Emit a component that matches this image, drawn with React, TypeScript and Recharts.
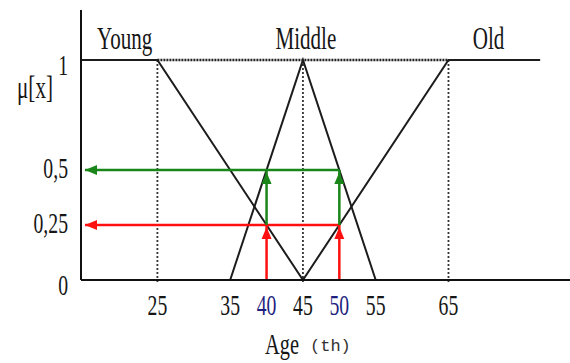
import React from "react";
import {
  LineChart,
  Line,
  XAxis,
  YAxis,
  ReferenceLine,
  ReferenceDot,
} from "recharts";

// age axis
const ageTicks = [25, 35, 40, 45, 50, 55, 65];
const inputAges = [40, 50];
const ageDomain = [14.5, 81.7];

// membership axis
const muTicks = [0, 0.25, 0.5, 1];
const muTickLabels = ["0", "0,25", "0,5", "1"];

// fuzzy sets
const young = [
  { x: 14.5, y: 1 },
  { x: 25, y: 1 },
  { x: 45, y: 0 },
];
const middle = [
  { x: 35, y: 0 },
  { x: 45, y: 1 },
  { x: 55, y: 0 },
];
const old = [
  { x: 45, y: 0 },
  { x: 65, y: 1 },
  { x: 77.6, y: 1 },
];
const setNames = ["Young", "Middle", "Old"];
const setNameAt = [20.5, 45.4, 70.5];
const peakAges = [25, 45, 65];

const lowDegree = 0.25;
const highDegree = 0.5;
const arrowEnd = 15.05;

const redUp40 = [
  { x: 40, y: 0 },
  { x: 40, y: lowDegree },
];
const redUp50 = [
  { x: 50, y: 0 },
  { x: 50, y: lowDegree },
];
const greenUp40 = [
  { x: 40, y: lowDegree },
  { x: 40, y: highDegree },
];
const greenUp50 = [
  { x: 50, y: lowDegree },
  { x: 50, y: highDegree },
];
const redLeft = [
  { x: 50, y: lowDegree },
  { x: arrowEnd, y: lowDegree },
];
const greenLeft = [
  { x: 50, y: highDegree },
  { x: arrowEnd, y: highDegree },
];

const SERIF = "'Liberation Serif', 'Times New Roman', serif";
const INK = "#161616";
const BLUE = "#1f1f80";
const RED = "#ff1010";
const GREEN = "#1a861a";

function SerifText({ x, y, children, anchor = "middle", fill = INK, size = 28 }: any) {
  return (
    <text
      transform={`translate(${x},${y}) scale(0.68,1)`}
      textAnchor={anchor}
      fontFamily={SERIF}
      fontSize={size}
      fill={fill}
    >
      {children}
    </text>
  );
}

const arrowDot = (dir: "left" | "up", color: string) => (p: any) => {
  const { cx, cy, index } = p;
  if (index !== 1 || cx == null) return <g key={`a-${index}`} />;
  const pts =
    dir === "left"
      ? `${cx},${cy} ${cx + 12},${cy - 5} ${cx + 12},${cy + 5}`
      : `${cx},${cy + 2} ${cx - 5},${cy + 14} ${cx + 5},${cy + 14}`;
  return <polygon key={`a-${index}`} points={pts} fill={color} stroke="none" />;
};

const AgeTick = ({ x, y, payload }: any) => (
  <SerifText
    x={x}
    y={y + 27}
    size={29}
    fill={inputAges.includes(payload.value) ? BLUE : INK}
  >
    {payload.value}
  </SerifText>
);

const MuTick = ({ x, y, payload }: any) => {
  const i = muTicks.indexOf(payload.value);
  const dy = payload.value === 1 || payload.value === 0 ? 15 : 8;
  return (
    <SerifText x={x - 5} y={y + dy} anchor="end" size={29}>
      {muTickLabels[i]}
    </SerifText>
  );
};

export default function App() {
  return (
    <div style={{ position: "absolute", left: 0, top: 0, background: "#fff" }}>
      <LineChart
        width={570}
        height={363}
        margin={{ top: 10, right: 0, left: 0, bottom: 23 }}
      >
        <XAxis
          dataKey="x"
          type="number"
          domain={ageDomain}
          allowDataOverflow
          ticks={ageTicks}
          tickLine={false}
          tick={<AgeTick />}
          axisLine={{ stroke: "#111", strokeWidth: 2 }}
          height={60}
          label={{
            content: ({ viewBox }: any) => (
              <g>
                <SerifText x={viewBox.x + 184} y={viewBox.y + 74} anchor="start" size={30}>
                  Age
                </SerifText>
                <text
                  x={viewBox.x + 229}
                  y={viewBox.y + 71}
                  fontFamily="'Liberation Mono', monospace"
                  fontSize={17}
                  fill="#333"
                >
                  (th)
                </text>
              </g>
            ),
          }}
        />
        <YAxis
          type="number"
          domain={[0, 1.227]}
          ticks={muTicks}
          tickLine={false}
          tick={<MuTick />}
          axisLine={{ stroke: "#111", strokeWidth: 2 }}
          width={81}
          label={{
            content: ({ viewBox }: any) => (
              <SerifText x={viewBox.x + 35} y={viewBox.y + 88} size={31}>
                μ[x]
              </SerifText>
            ),
          }}
        />

        {/* dotted guides */}
        <ReferenceLine
          segment={[
            { x: peakAges[0], y: 1 },
            { x: peakAges[2], y: 1 },
          ]}
          stroke="#222"
          strokeWidth={2.5}
          strokeDasharray="2 1"
          ifOverflow="visible"
        />
        {peakAges.map((a) => (
          <ReferenceLine
            key={a}
            segment={[
              { x: a, y: 1 },
              { x: a, y: -0.015 },
            ]}
            stroke="#333"
            strokeWidth={1.8}
            strokeDasharray="2 2"
            ifOverflow="visible"
          />
        ))}

        {/* membership functions */}
        {[young, middle, old].map((d, i) => (
          <Line
            key={i}
            data={d}
            dataKey="y"
            stroke="#1c1c1c"
            strokeWidth={2}
            dot={false}
            activeDot={false}
            isAnimationActive={false}
          />
        ))}

        {/* fuzzification arrows */}
        {[redLeft, greenLeft].map((d, i) => (
          <Line
            key={`h${i}`}
            data={d}
            dataKey="y"
            stroke={i === 0 ? RED : GREEN}
            strokeWidth={2.5}
            dot={arrowDot("left", i === 0 ? RED : GREEN)}
            activeDot={false}
            isAnimationActive={false}
          />
        ))}
        {[redUp40, redUp50, greenUp40, greenUp50].map((d, i) => (
          <Line
            key={`v${i}`}
            data={d}
            dataKey="y"
            stroke={i < 2 ? RED : GREEN}
            strokeWidth={2.5}
            dot={arrowDot("up", i < 2 ? RED : GREEN)}
            activeDot={false}
            isAnimationActive={false}
          />
        ))}

        {setNames.map((n, i) => (
          <ReferenceDot
            key={n}
            x={setNameAt[i]}
            y={1}
            r={0}
            ifOverflow="visible"
            shape={(p: any) => (
              <SerifText x={p.cx} y={p.cy - 11} size={31}>
                {n}
              </SerifText>
            )}
          />
        ))}
      </LineChart>
    </div>
  );
}
